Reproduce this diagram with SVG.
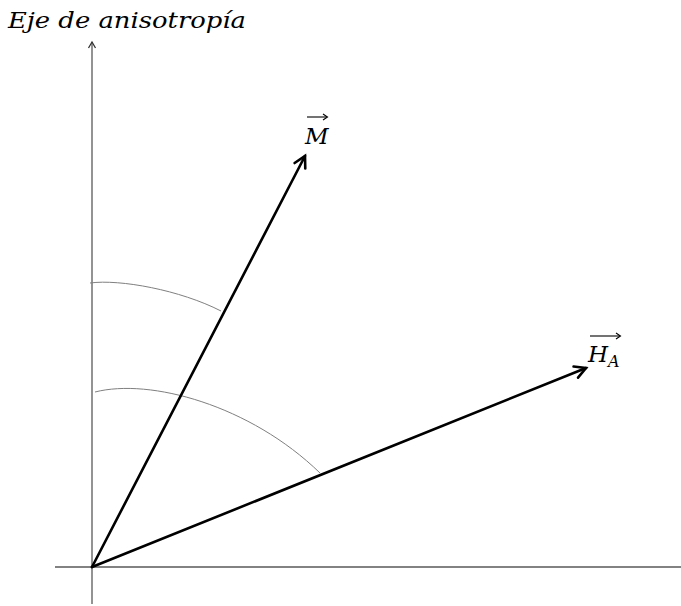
<svg xmlns="http://www.w3.org/2000/svg" width="681" height="606" viewBox="0 0 681 606">
<style>
.axis{stroke:#595959;stroke-width:1.3;fill:none}
.vec{stroke:#000;stroke-width:2.6;fill:none;stroke-linecap:round}
.arc{stroke:#7f7f7f;stroke-width:1;fill:none}
.lbl{font-family:"DejaVu Serif","Liberation Serif",serif;font-style:italic;fill:#000}
.acc{stroke:#000;stroke-width:1.1;fill:none}
</style>
<defs>
<marker id="vhead" viewBox="-13 -8 16 16" markerWidth="16" markerHeight="16" refX="0" refY="0" orient="auto" markerUnits="userSpaceOnUse">
<path d="M-11,-6 L0,0 L-11,6" fill="none" stroke="#000" stroke-width="2.6" stroke-linecap="round" stroke-linejoin="miter"/>
</marker>
<marker id="ahead" viewBox="-8 -5 10 10" markerWidth="10" markerHeight="10" refX="0" refY="0" orient="auto" markerUnits="userSpaceOnUse">
<path d="M-6,-3.5 L0,0 L-6,3.5" fill="none" stroke="#333" stroke-width="1.3"/>
</marker>
</defs>
<g id="axes">
<line class="axis" x1="92" y1="604" x2="92" y2="42" marker-end="url(#ahead)"/>
<line class="axis" x1="55" y1="567" x2="681" y2="567"/>
</g>
<g id="angles">
<path class="arc" d="M90 283 C120 279 180 290 221 311"/>
<path class="arc" d="M95 392 C150 378 250 405 320 473"/>
</g>
<g id="connectors">
<line class="vec" x1="92" y1="567" x2="305" y2="156" marker-end="url(#vhead)"/>
<line class="vec" x1="92" y1="567" x2="586" y2="368" marker-end="url(#vhead)"/>
</g>
<g id="title">
<text class="lbl" x="8" y="28" font-size="21.5" textLength="238" lengthAdjust="spacingAndGlyphs">Eje de anisotropía</text>
</g>
<g id="label-M">
<text class="lbl" x="305" y="144" font-size="23">M</text>
<line class="acc" x1="307" y1="117" x2="327" y2="117"/>
<path class="acc" d="M323 114 L327.5 117 L323 120"/>
</g>
<g id="label-HA">
<text class="lbl" x="588" y="362" font-size="23">H<tspan font-size="16" dy="5">A</tspan></text>
<line class="acc" x1="590" y1="336" x2="620" y2="336"/>
<path class="acc" d="M616 333 L620.5 336 L616 339"/>
</g>
</svg>
